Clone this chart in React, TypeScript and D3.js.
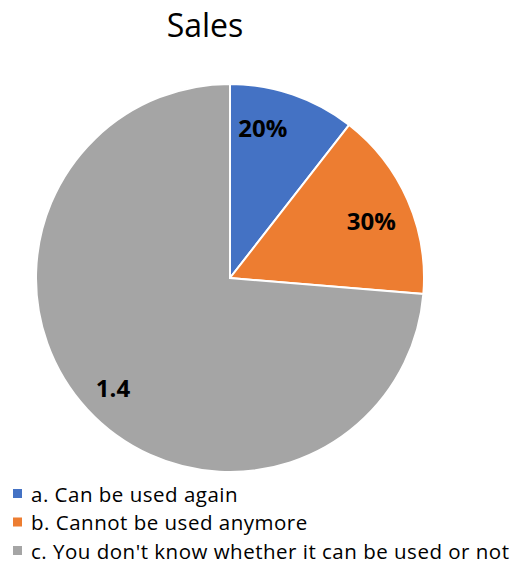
import React from "react";
import * as d3 from "d3";

const categories = [
  "a. Can be used again",
  "b. Cannot be used anymore",
  "c. You don't know whether it can be used or not",
];
const values = [0.2, 0.3, 1.4];
const labels = ["20%", "30%", "1.4"];
const colors = ["#4472C4", "#ED7D31", "#A5A5A5"];
const title = "Sales";

const W = 513;
const H = 568;
const cx = 230;
const cy = 278;
const R = 194;
const FONT = "'Open Sans', 'Noto Sans', sans-serif";

export default function App() {
  const pie = d3.pie<number>().sort(null).value((d) => d)(values);
  const arc = d3.arc<d3.PieArcDatum<number>>().innerRadius(0).outerRadius(R);
  const labelR = [0.79, 0.79, 0.82];
  const labelShift = [
    [-17, -6],
    [1, 4],
    [0, 2],
  ];
  return (
    <svg
      width={W}
      height={H}
      style={{ position: "absolute", left: 0, top: 0, background: "#fff" }}
      fontFamily={FONT}
    >
      <text x={205} y={37} textAnchor="middle" fontSize={32} fill="#000">
        {title}
      </text>
      <g transform={`translate(${cx},${cy})`}>
        {pie.map((p, i) => (
          <path key={i} d={arc(p) || ""} fill={colors[i]} stroke="#fff" strokeWidth={2} />
        ))}
        {pie.map((p, i) => {
          const a = (p.startAngle + p.endAngle) / 2;
          const r = R * labelR[i];
          const x = r * Math.sin(a) + labelShift[i][0];
          const y = -r * Math.cos(a) + labelShift[i][1];
          return (
            <text
              key={i}
              x={x}
              y={y}
              textAnchor="middle"
              dominantBaseline="central"
              fontSize={24}
              fontWeight="bold"
              fill="#000"
            >
              {labels[i]}
            </text>
          );
        })}
      </g>
      <g>
        {categories.map((c, i) => {
          const y = 493.5 + i * 28.5;
          return (
            <g key={i}>
              <rect x={13} y={y - 4.5} width={9} height={9} fill={colors[i]} />
              <text
                x={31}
                y={y}
                dominantBaseline="central"
                fontSize={20.5}
                letterSpacing={0.5}
                fill="#000"
              >
                {c}
              </text>
            </g>
          );
        })}
      </g>
    </svg>
  );
}
